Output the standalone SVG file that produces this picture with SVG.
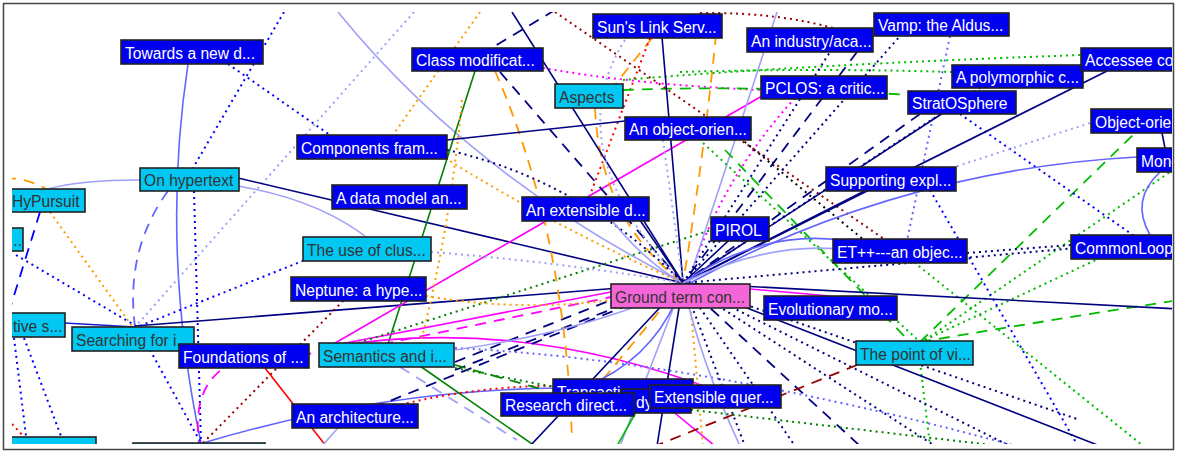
<svg xmlns="http://www.w3.org/2000/svg" width="1179" height="452" viewBox="0 0 1179 452">
<defs>
<clipPath id="cp"><rect x="12" y="12" width="1160" height="432"/></clipPath>
</defs>
<style>
.e{fill:none;stroke-width:1.6}
.dt{stroke-dasharray:2 4;stroke-width:2}
.ds{stroke-dasharray:11 8;stroke-width:1.8}
.nv{stroke:#000080}.bl{stroke:#0000ff}.mb{stroke:#6464ff}.lb{stroke:#a0a0f8}
.or{stroke:#ff9a00}.gr{stroke:#008000}.gn{stroke:#00bb00}.mg{stroke:#ff00ff}
.rd{stroke:#ff0000}.dr{stroke:#990000}.bk{stroke:#000}.cb{stroke:#1a1ad8}
.n rect{stroke:#222;stroke-width:1.6}
.b rect{fill:#0000ee}.c rect{fill:#00c8f2}.p rect{fill:#f466d8}
.n text{font-family:"Liberation Sans",Arial,sans-serif;font-size:15.6px}
.b text{fill:#fff}.c text,.p text{fill:#333}
</style>
<rect x="0" y="0" width="1179" height="452" fill="#fff"/>
<rect x="3.5" y="3.5" width="1170" height="446" fill="none" stroke="#444" stroke-width="1.5"/>
<g clip-path="url(#cp)">
<g id="edges">
<path class="e mb" d="M188,64 Q160,250 201,443"/>
<path class="e dt bl" d="M284,12 L193,168"/>
<path class="e dt bl" d="M194,191 L201,443"/>
<path class="e dt lb" d="M414,12 L136,326"/>
<path class="e dt bl" d="M228,64 L330,135"/>
<path class="e lb" d="M338,12 Q470,175 683,283"/>
<path class="e nv" d="M238,178 L683,283"/>
<path class="e lb" d="M238,186 Q320,200 370,240"/>
<path class="e lb" d="M48,189 Q80,180 140,180"/>
<path class="e ds mb" d="M168,191 Q125,250 135,327"/>
<path class="e ds bl" d="M40,212 L8,315"/>
<path class="e ds or" d="M5,178 Q28,178 48,190"/>
<path class="e dt or" d="M50,212 L132,326"/>
<path class="e dt bl" d="M16,255 L136,326"/>
<path class="e dt bl" d="M140,326 L305,260"/>
<path class="e cb" d="M64,323 L135,327"/>
<path class="e nv" d="M135,326 L683,283"/>
<path class="e dt bl" d="M14,338 L27,444"/>
<path class="e dt bl" d="M24,338 L64,444"/>
<path class="e dt rd" d="M12,424 L25,438"/>
<path class="e dt bl" d="M150,350 L201,443"/>
<path class="e ds mg" d="M330,356 Q185,335 199,443"/>
<path class="e dt dr" d="M203,443 L346,298"/>
<path class="e mb" d="M203,443 Q380,390 560,388"/>
<path class="e rd" d="M265,368 L326,446"/>
<path class="e gr" d="M475,71 L388,344"/>
<path class="e gr" d="M420,366 L535,446"/>
<path class="e mg" d="M330,346 L762,96"/>
<path class="e mg" d="M330,346 L611,292"/>
<path class="e mg" d="M330,347 Q520,315 720,392"/>
<path class="e mg" d="M665,405 L715,446"/>
<path class="e mg" d="M750,289 L830,296"/>
<path class="e ds nv" d="M455,362 L611,300"/>
<path class="e ds nv" d="M455,370 L620,306"/>
<path class="e ds mg" d="M345,352 L611,297"/>
<path class="e dt gr" d="M330,352 L711,230"/>
<path class="e dt mb" d="M455,348 Q700,360 1020,447"/>
<path class="e ds nv" d="M683,283 L330,425"/>
<path class="e dt rd" d="M395,406 Q480,385 560,386"/>
<path class="e dt or" d="M480,12 L395,132"/>
<path class="e dt or" d="M445,158 Q560,230 683,283"/>
<path class="e dt or" d="M426,296 Q520,312 611,300"/>
<path class="e dt or" d="M462,100 Q450,230 420,345"/>
<path class="e ds or" d="M718,15 Q705,150 683,283"/>
<path class="e ds or" d="M652,38 L595,110"/>
<path class="e ds or" d="M495,71 Q565,230 572,440"/>
<path class="e ds or" d="M595,108 Q600,220 683,283"/>
<path class="e ds or" d="M683,283 L590,395"/>
<path class="e dt or" d="M690,300 L703,446"/>
<path class="e dt rd" d="M650,38 L590,195"/>
<path class="e dt mg" d="M543,68 Q640,85 762,90"/>
<path class="e dt mg" d="M795,98 Q720,180 688,283"/>
<path class="e ds gn" d="M623,90 Q760,85 908,95"/>
<path class="e dt gn" d="M623,80 Q800,65 1081,55"/>
<path class="e dt gn" d="M680,72 Q820,68 952,72"/>
<path class="e nv" d="M447,140 L625,121"/>
<path class="e nv" d="M512,12 L683,283"/>
<path class="e nv" d="M662,37 L683,283"/>
<path class="e ds nv" d="M555,10 L480,55"/>
<path class="e ds nv" d="M500,72 L683,283"/>
<path class="e dt nv" d="M447,150 Q580,180 683,283"/>
<path class="e lb" d="M777,12 L688,283"/>
<path class="e lb" d="M600,205 Q640,260 683,283"/>
<path class="e dt lb" d="M625,40 Q555,150 683,283"/>
<path class="e dt lb" d="M663,140 L683,283"/>
<path class="e dt lb" d="M431,252 Q560,262 683,283"/>
<path class="e nv" d="M633,210 L683,283"/>
<path class="e dt dr" d="M555,12 L900,250"/>
<path class="e dt dr" d="M700,13 Q780,12 840,30"/>
<path class="e dt bk" d="M740,138 L870,245"/>
<path class="e dt gn" d="M703,143 L920,342"/>
<path class="e ds gn" d="M725,150 L910,342"/>
<path class="e ds gn" d="M920,342 L1135,133"/>
<path class="e ds gn" d="M920,342 Q1050,320 1179,300"/>
<path class="e dt gn" d="M925,340 L1100,258"/>
<path class="e dt gn" d="M925,340 L1170,172"/>
<path class="e dt gn" d="M920,362 L930,446"/>
<path class="e dt gn" d="M900,251 L1142,445"/>
<path class="e dt mb" d="M950,36 L905,250"/>
<path class="e dt bl" d="M960,114 L1140,240"/>
<path class="e dt bl" d="M930,190 L1078,446"/>
<path class="e nv" d="M683,283 L1179,309"/>
<path class="e nv" d="M683,283 L1100,446"/>
<path class="e dt nv" d="M683,283 L1110,245"/>
<path class="e dt nv" d="M967,253 L1071,245"/>
<path class="e dt nv" d="M683,283 L745,446"/>
<path class="e dt nv" d="M683,283 L795,446"/>
<path class="e dt nv" d="M683,283 L935,446"/>
<path class="e dt nv" d="M683,283 L1010,446"/>
<path class="e dt nv" d="M683,283 L1080,420"/>
<path class="e ds nv" d="M683,283 L860,446"/>
<path class="e nv" d="M683,283 L740,230"/>
<path class="e nv" d="M683,283 L890,178"/>
<path class="e nv" d="M683,283 L943,113"/>
<path class="e nv" d="M683,283 L1107,71"/>
<path class="e ds nv" d="M857,52 L683,283"/>
<path class="e ds nv" d="M920,114 L683,283"/>
<path class="e dt nv" d="M683,283 L900,36"/>
<path class="e dt nv" d="M683,283 L830,52"/>
<path class="e dt nv" d="M683,283 L980,88"/>
<path class="e mb" d="M1137,157 Q900,170 690,283"/>
<path class="e mb" d="M683,283 Q760,230 840,240"/>
<path class="e lb" d="M683,283 Q770,240 850,250"/>
<path class="e mb" d="M1160,172 Q1130,200 1150,235"/>
<path class="e nv" d="M1162,133 L1165,148"/>
<path class="e dt lb" d="M1090,123 L930,175"/>
<path class="e nv" d="M683,283 L530,446"/>
<path class="e nv" d="M683,283 L657,446"/>
<path class="e lb" d="M683,283 L620,446"/>
<path class="e lb" d="M683,283 Q700,360 740,446"/>
<path class="e mb" d="M683,283 Q660,350 600,380"/>
<path class="e lb" d="M455,350 Q560,335 640,305"/>
<path class="e gn" d="M617,446 L640,405"/>
<path class="e ds dr" d="M857,365 L655,446"/>
<path class="e dt gr" d="M455,368 L560,388"/>
<path class="e dt gr" d="M667,407 L1000,446"/>
<path class="e ds gr" d="M455,365 L545,390"/>
<path class="e ds lb" d="M400,367 L517,440"/>
<path class="e lb" d="M345,420 L322,446"/>
</g>
<g id="n1" class="n b"><rect x="121" y="40" width="142" height="24"/><text x="125" y="58.5">Towards a new d...</text></g>
<g id="n2" class="n b"><rect x="297" y="135" width="150" height="24"/><text x="301" y="153.5">Components fram...</text></g>
<g id="n3" class="n c"><rect x="140" y="168" width="99" height="23"/><text x="144" y="186">On hypertext</text></g>
<g id="n4" class="n b"><rect x="332" y="185" width="135" height="24"/><text x="336" y="203.5">A data model an...</text></g>
<g id="n5" class="n c"><rect x="8" y="189" width="77" height="23"/><text x="12" y="207">HyPursuit</text></g>
<g id="n6" class="n c"><rect x="8" y="228" width="15" height="23"/><text x="9" y="246">...</text></g>
<g id="n7" class="n c"><rect x="8" y="313" width="57" height="24"/><text x="13" y="331.5">tive s...</text></g>
<g id="n8" class="n c"><rect x="72" y="327" width="122" height="24"/><text x="76" y="345.5">Searching for i...</text></g>
<g id="n9" class="n b"><rect x="179" y="344" width="130" height="24"/><text x="183" y="362.5">Foundations of ...</text></g>
<g id="n10" class="n c"><rect x="8" y="437" width="88" height="24"/></g>
<g id="n11" class="n c"><rect x="133" y="443" width="132" height="24"/></g>
<g id="n12" class="n c"><rect x="303" y="237" width="128" height="24"/><text x="307" y="255.5">The use of clus...</text></g>
<g id="n13" class="n b"><rect x="291" y="277" width="135" height="24"/><text x="295" y="295.5">Neptune: a hype...</text></g>
<g id="n14" class="n c"><rect x="319" y="343" width="135" height="24"/><text x="323" y="361.5">Semantics and i...</text></g>
<g id="n15" class="n b"><rect x="292" y="404" width="126" height="24"/><text x="296" y="422.5">An architecture...</text></g>
<g id="n16" class="n b"><rect x="412" y="48" width="131" height="23"/><text x="416" y="66">Class modificat...</text></g>
<g id="n17" class="n c"><rect x="555" y="84" width="68" height="24"/><text x="559" y="102.5">Aspects</text></g>
<g id="n18" class="n b"><rect x="593" y="14" width="129" height="24"/><text x="597" y="32.5">Sun's Link Serv...</text></g>
<g id="n19" class="n b"><rect x="625" y="117" width="126" height="23"/><text x="629" y="135">An object-orien...</text></g>
<g id="n20" class="n b"><rect x="522" y="197" width="127" height="24"/><text x="526" y="215.5">An extensible d...</text></g>
<g id="n21" class="n b"><rect x="747" y="28" width="126" height="24"/><text x="751" y="46.5">An industry/aca...</text></g>
<g id="n22" class="n b"><rect x="761" y="76" width="126" height="23"/><text x="765" y="94">PCLOS: a critic...</text></g>
<g id="n23" class="n b"><rect x="874" y="13" width="135" height="23"/><text x="878" y="31">Vamp: the Aldus...</text></g>
<g id="n24" class="n b"><rect x="952" y="65" width="131" height="23"/><text x="956" y="83">A polymorphic c...</text></g>
<g id="n25" class="n b"><rect x="908" y="91" width="108" height="23"/><text x="912" y="109">StratOSphere</text></g>
<g id="n26" class="n b"><rect x="1081" y="48" width="100" height="23"/><text x="1085" y="66">Accessee co</text></g>
<g id="n27" class="n b"><rect x="1091" y="109" width="90" height="24"/><text x="1095" y="127.5">Object-orie</text></g>
<g id="n28" class="n b"><rect x="1137" y="148" width="50" height="24"/><text x="1141" y="166.5">Mono</text></g>
<g id="n29" class="n b"><rect x="1071" y="235" width="110" height="24"/><text x="1075" y="253.5">CommonLoop</text></g>
<g id="n30" class="n b"><rect x="826" y="167" width="130" height="24"/><text x="830" y="185.5">Supporting expl...</text></g>
<g id="n31" class="n b"><rect x="711" y="217" width="58" height="24"/><text x="715" y="235.5">PIROL</text></g>
<g id="n32" class="n b"><rect x="833" y="239" width="134" height="24"/><text x="837" y="257.5">ET++---an objec...</text></g>
<g id="n33" class="n p"><rect x="611" y="284" width="139" height="24"/><text x="615" y="302.5">Ground term con...</text></g>
<g id="n34" class="n b"><rect x="764" y="296" width="133" height="24"/><text x="768" y="314.5">Evolutionary mo...</text></g>
<g id="n35" class="n c"><rect x="856" y="341" width="117" height="24"/><text x="860" y="359.5">The point of vi...</text></g>
<g id="n36" class="n b"><rect x="553" y="379" width="140" height="24"/><text x="557" y="397.5">Transactio</text></g>
<g id="n37" class="n b"><rect x="621" y="389" width="70" height="24"/><text x="636" y="407.5">dy-</text></g>
<g id="n38" class="n b"><rect x="501" y="393" width="133" height="23"/><text x="505" y="411">Research direct...</text></g>
<g id="n39" class="n b"><rect x="650" y="385" width="131" height="23"/><text x="654" y="403">Extensible quer...</text></g>
</g>
</svg>
